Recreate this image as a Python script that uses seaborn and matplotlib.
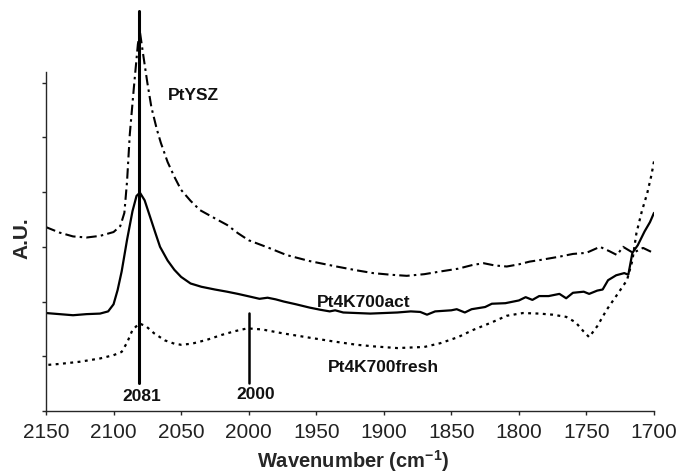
import numpy as np
import pandas as pd
import matplotlib
matplotlib.use("Agg")
import matplotlib.pyplot as plt
import seaborn as sns

# wavenumber (cm-1) / absorbance in arbitrary units
ysz_x = [2150, 2140, 2130, 2120, 2110, 2100, 2095, 2092, 2090, 2088, 2085, 2082, 2080.5,
         2078, 2075, 2072, 2068, 2065, 2060, 2055, 2050, 2043, 2036, 2025, 2016, 2008,
         2000, 1985, 1972, 1955, 1935, 1920, 1908, 1895, 1883, 1870, 1858, 1845, 1834,
         1826, 1818, 1809, 1800, 1792, 1784, 1770, 1760, 1750, 1740, 1733, 1727.4,
         1722.9, 1715.5, 1708.1, 1702.2]
ysz_y = [3.36, 3.26, 3.19, 3.17, 3.20, 3.27, 3.38, 3.62, 4.20, 5.05, 5.90, 6.70, 6.93,
         6.50, 6.00, 5.55, 5.15, 4.90, 4.55, 4.28, 4.04, 3.84, 3.67, 3.52, 3.40, 3.25,
         3.12, 2.98, 2.85, 2.74, 2.64, 2.57, 2.52, 2.49, 2.47, 2.50, 2.55, 2.60, 2.67,
         2.70, 2.66, 2.64, 2.68, 2.73, 2.76, 2.82, 2.87, 2.89, 3.00, 2.92, 2.85,
         3.00, 2.89, 2.98, 2.91]

act_x = [2150, 2140, 2130, 2120, 2110, 2104, 2100, 2097, 2094, 2090, 2086, 2083, 2080.5,
         2077, 2073, 2069, 2065.6, 2060, 2055, 2050, 2043, 2035, 2025, 2016, 2008, 1999,
         1992, 1986, 1980, 1974, 1965, 1955, 1947, 1940, 1936, 1930, 1920, 1910, 1900,
         1890, 1880, 1873, 1868, 1862, 1850, 1846, 1840, 1835, 1825, 1820, 1810, 1800,
         1795, 1790, 1785, 1778, 1770, 1765, 1760, 1752, 1748, 1742, 1738, 1734, 1728,
         1722, 1719, 1716, 1712, 1707, 1703, 1700]
act_y = [1.79, 1.77, 1.75, 1.77, 1.78, 1.82, 1.95, 2.21, 2.55, 3.13, 3.65, 3.93, 3.99,
         3.85, 3.55, 3.25, 3.00, 2.75, 2.58, 2.45, 2.33, 2.27, 2.22, 2.18, 2.14, 2.09,
         2.05, 2.07, 2.04, 2.00, 1.95, 1.89, 1.85, 1.82, 1.84, 1.80, 1.79, 1.78, 1.79,
         1.80, 1.82, 1.81, 1.76, 1.82, 1.84, 1.86, 1.80, 1.86, 1.90, 1.96, 1.97, 2.02,
         2.08, 2.03, 2.10, 2.10, 2.14, 2.06, 2.16, 2.18, 2.14, 2.20, 2.22, 2.39, 2.48,
         2.52, 2.49, 2.89, 3.03, 3.28, 3.45, 3.62]

fresh_x = [2150, 2140, 2125, 2110, 2100, 2094, 2090, 2086, 2081, 2076, 2070, 2062, 2055,
           2050, 2042, 2031, 2020, 2010, 2001, 1990, 1975, 1955, 1937, 1920, 1907, 1890,
           1870, 1858, 1845, 1834, 1820, 1809, 1797, 1785, 1775, 1765, 1758, 1752, 1748,
           1742, 1735, 1728, 1720, 1716, 1713, 1709, 1705, 1702, 1700]
fresh_y = [0.84, 0.86, 0.90, 0.96, 1.02, 1.08, 1.25, 1.48, 1.60, 1.55, 1.42, 1.29, 1.23,
           1.21, 1.23, 1.30, 1.39, 1.46, 1.51, 1.49, 1.42, 1.34, 1.27, 1.21, 1.18, 1.15,
           1.17, 1.24, 1.35, 1.48, 1.62, 1.74, 1.79, 1.78, 1.76, 1.72, 1.62, 1.45, 1.35,
           1.55, 1.85, 2.10, 2.39, 2.75, 3.25, 3.65, 3.98, 4.30, 4.56]

x_ticks = [2150, 2100, 2050, 2000, 1950, 1900, 1850, 1800, 1750, 1700]
marks = [2081, 2000]

sns.set_style("ticks")
plt.rcParams['font.family'] = ['Liberation Sans', 'DejaVu Sans']

fig = plt.figure(figsize=(6.78, 4.74), dpi=100)
ax = fig.add_axes([46 / 678, 1 - 411 / 474, 608 / 678, 411 / 474])

ysz = pd.DataFrame({'wn': ysz_x, 'au': ysz_y})
act = pd.DataFrame({'wn': act_x, 'au': act_y})
fresh = pd.DataFrame({'wn': fresh_x, 'au': fresh_y})

sns.lineplot(data=ysz, x='wn', y='au', ax=ax, color='black', lw=1.5,
             linestyle=(0, (5, 2, 1.2, 2)))
sns.lineplot(data=act, x='wn', y='au', ax=ax, color='black', lw=1.6)
sns.lineplot(data=fresh, x='wn', y='au', ax=ax, color='black', lw=1.6,
             linestyle=(0, (1.3, 2.0)))

# peak markers
ax.plot([marks[0], marks[0]], [0.51, 7.3], color='black', lw=2.2)
ax.plot([marks[1], marks[1]], [0.52, 1.79], color='black', lw=1.8)

bold = dict(fontweight='bold', ha='center', va='center', color='#111111')
ax.text(2041, 5.76, 'PtYSZ', fontsize=12.5, **bold)
ax.text(1914.6, 1.99, 'Pt4K700act', fontsize=12.5, **bold)
ax.text(1900, 0.79, 'Pt4K700fresh', fontsize=12.5, **bold)
ax.text(2079, 0.27, str(marks[0]), fontsize=12.5, **bold)
ax.text(1995, 0.30, str(marks[1]), fontsize=12.5, **bold)

ax.set_xlim(2150, 1700)
ax.set_ylim(0, 7.51)
ax.set_xticks(x_ticks)
ax.set_xticklabels([str(t) for t in x_ticks], fontsize=15, color='#222222')
ax.set_yticks(range(7))
ax.set_yticklabels([])
ax.tick_params(direction='out', length=3, width=1, pad=5.5)

sns.despine(ax=ax)
ax.spines['left'].set_bounds(0, 6.2)
ax.spines['left'].set_linewidth(1)
ax.spines['bottom'].set_linewidth(1)

ax.set_xlabel('Wavenumber (cm$^{\\mathregular{-1}}$)', fontsize=14.5, fontweight='bold',
              va='center')
ax.xaxis.set_label_coords(0.505, -0.122)
ax.set_ylabel('A.U.', fontsize=15, fontweight='bold')
ax.yaxis.set_label_coords(-0.024, 0.42)

fig.savefig('out.png', dpi=100)
